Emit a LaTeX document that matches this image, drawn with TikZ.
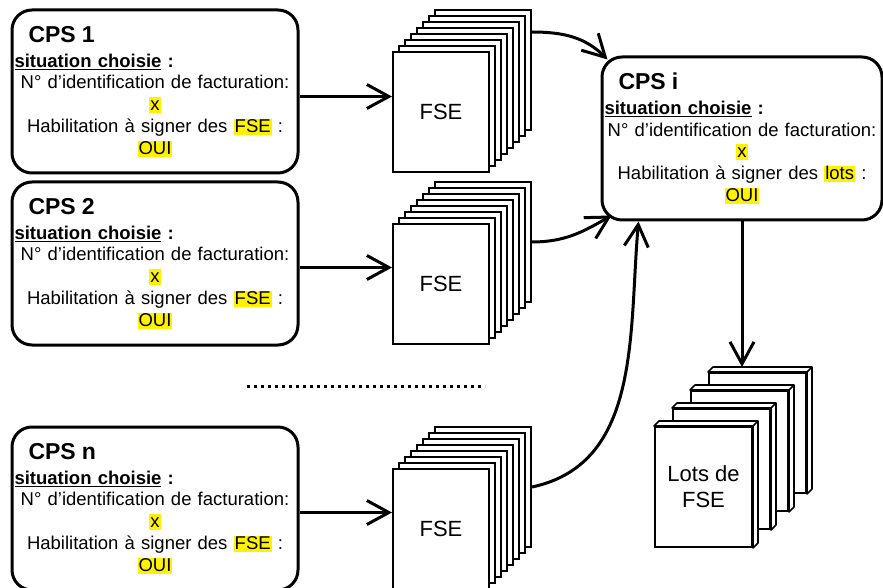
\documentclass[tikz,border=0pt]{standalone}
\usepackage{fontspec}
\setmainfont{Liberation Sans}
\usetikzlibrary{arrows.meta}

% yellow marking of the chosen values
\newcommand{\hlt}[1]{{\setlength{\fboxsep}{0pt}\colorbox{yellow}{\rule[-2.5pt]{0pt}{16pt}\hspace{1pt}#1\hspace{1pt}}}}
\newcommand{\cpsbody}[2]{\hspace*{14pt}{\fontsize{23}{24}\selectfont\bfseries #1}\hspace{0pt plus 1filll}\null\\[3pt]
  \underline{\textbf{situation choisie}}\textbf{ :}\hspace{0pt plus 1filll}\null\\
  N° d’identification de facturation:\\
  \hlt{x}\\
  Habilitation à signer des \hlt{#2} :\\
  \hlt{OUI}}
% top and side of a lot page
\newcommand{\lotdepth}[1]{%
  \draw[line width=1.6pt, fill=white, line join=round] (#1.north west) -- ++(5,5) -| ([shift={(5,5)}]#1.south east) -- (#1.south east) -- (#1.north east) -- cycle;
  \draw[line width=1.6pt] (#1.north east) -- ++(5,5);}

\begin{document}
\begin{tikzpicture}[x=1pt, y=1pt,
    cps/.style={draw, line width=3pt, rounded corners=20pt, fill=white, minimum width=286pt, minimum height=163pt,
      text width=281pt, inner xsep=2.5pt, inner ysep=0pt, align=center, font=\fontsize{18.5}{21.7}\selectfont},
    page/.style={draw, line width=2pt, fill=white, minimum width=96pt, minimum height=120pt, inner sep=0pt,
      font=\fontsize{22}{26}\selectfont},
    lotpage/.style={draw, line width=2pt, fill=white, minimum width=97pt, minimum height=120pt, inner sep=0pt,
      align=center, font=\fontsize{22}{26}\selectfont},
    arrow/.style={-{Straight Barb[length=22pt,width=24pt]}, line width=3pt}
  ]
  \clip (0,0) rectangle (883,587);

  % the cards
  \node[cps] (cps1) at (155,495.5) {\cpsbody{CPS 1}{FSE}};
  \node[cps] (cps2) at (155,323.5) {\cpsbody{CPS 2}{FSE}};
  \node[cps] (cpsn) at (155,78.5) {\cpsbody{CPS n}{FSE}};
  \node[cps, minimum width=280pt, text width=275pt] (cpsi) at (742,448.5) {\cpsbody{CPS i}{lots}};

  % FSE stacks
  \foreach \s/\cy in {1/475, 2/303, n/58} {
    \foreach \k in {7,...,1}
      \node[page] (fse\s b\k) at (441+6*\k, \cy+6*\k) {};
    \node[page] (fse\s) at (441,\cy) {FSE};
  }

  % lots
  \foreach \k in {3,2,1} {
    \node[lotpage] (lot\k) at (703.5+18*\k, 100+18*\k) {};
    \lotdepth{lot\k}
  }
  \node[lotpage] (lot0) at (703.5,100) {Lots de\\FSE};
  \lotdepth{lot0}
  \coordinate (lottop) at ([yshift=5pt]lot3.north);

  \draw[line width=3pt, dash pattern=on 3pt off 4pt] (247,201) -- (485,201);

  \draw[arrow] ([yshift=-5pt]cps1.east) -- ([yshift=-5pt]cps1.east -| fse1.west);
  \draw[arrow] ([yshift=-4pt]cps2.east) -- ([yshift=-4pt]cps2.east -| fse2.west);
  \draw[arrow] ([yshift=-4pt]cpsn.east) -- ([yshift=-4pt]cpsn.east -| fsen.west);

  \draw[arrow] ([yshift=38pt]fse1b7.east) to[out=0,in=135] ([shift={(7,-4)}]cpsi.north west);
  \draw[arrow] (fse2b7.east) to[out=0,in=210] ([shift={(11,6)}]cpsi.south west);
  \draw[arrow] (fsenb7.east) to[out=12,in=265] ([xshift=38pt]cpsi.south west);
  \draw[arrow] (cpsi.south) -- (cpsi.south |- lottop);
\end{tikzpicture}
\end{document}
